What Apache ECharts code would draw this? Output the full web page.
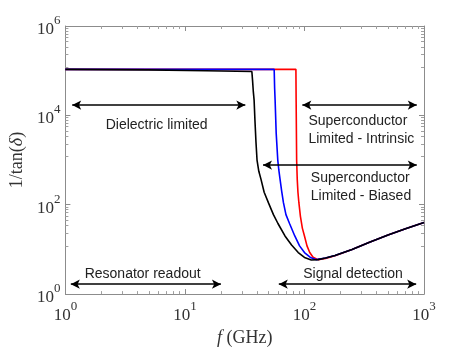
<!DOCTYPE html>
<html>
<head>
<meta charset="utf-8">
<script src="https://cdn.jsdelivr.net/npm/echarts@6/dist/echarts.min.js"></script>
<style>
  html, body { margin: 0; padding: 0; background: #fff; }
  #chart { width: 469px; height: 352px; }
</style>
</head>
<body>
<div id="chart"></div>
<script>
// frequency (GHz) and 1/tan(delta)
const freqBlack = [1, 5, 15, 36.3, 36.8, 37.3, 37.9, 38.5, 39.3, 40.1, 41.5, 43.3, 46, 50, 55, 60, 68.7, 78, 88.7, 100, 114, 130, 150, 180, 250, 350, 500, 700, 1000]
const lossBlack = [1.07e5, 1.04e5, 1e5, 0.96e5, 6e4, 3.5e4, 2.2e4, 8e3, 2.5e3, 1e3, 560, 370, 190, 110, 60, 38, 20, 12.5, 8.5, 6.6, 5.8, 5.9, 6.4, 7.3, 10, 14.5, 21, 29, 40]

const freqBlue = [1, 55.8, 56.3, 56.8, 58, 59.8, 61, 62.5, 64.5, 66.7, 70, 75, 83, 91, 100, 112, 126, 150, 180, 250, 350, 500, 700, 1000]
const lossBlue = [1.07e5, 1.07e5, 4e4, 2.2e4, 4e3, 1e3, 600, 370, 200, 111, 60, 38, 20, 12, 8.5, 6.6, 5.9, 6.4, 7.3, 10, 14.5, 21, 29, 40]

const freqRed = [1, 84.8, 85.2, 86, 87, 88.2, 89.8, 92.5, 96, 100, 105, 110.7, 118, 130, 150, 180, 250, 350, 500, 700, 1000]
const lossRed = [1.07e5, 1.07e5, 2e4, 1e3, 370, 190, 111, 55, 30, 20, 12, 8.5, 6.7, 5.9, 6.3, 7.2, 10, 14.5, 21, 29, 40]

// double arrows: [fromFreq, toFreq, level]
const arrows = [
  [1.14, 32, 1.7e4],
  [96, 870, 1.7e4],
  [45, 870, 770],
  [1.11, 20, 1.67],
  [61, 860, 1.67],
]

// region labels: [text, freq, level, align]
const notes = [
  ['Dielectric limited', 5.8, 5.9e3, 'center'],
  ['Superconductor\nLimited - Intrinsic', 108, 4.7e3, 'left'],
  ['Superconductor\nLimited - Biased', 113, 247, 'left'],
  ['Resonator readout', 4.43, 2.8, 'center'],
  ['Signal detection', 255, 2.8, 'center'],
]

const pairs = (xs, ys) => xs.map((x, i) => [x, ys[i]])

const chart = echarts.init(document.getElementById('chart'), null, { renderer: 'canvas' })

const expLabel = (v) => {
  const e = Math.round(Math.log10(v))
  return '{b|10}{s|' + e + '}'
}
const richTick = {
  b: { fontFamily: 'Liberation Serif', fontSize: 17, color: '#333', lineHeight: 24, verticalAlign: 'bottom' },
  s: { fontFamily: 'Liberation Serif', fontSize: 13, color: '#333', lineHeight: 13, verticalAlign: 'top' },
}

const frameAxis = {
  axisLine: { show: true, lineStyle: { color: '#8c8c8c', width: 1 } },
  axisTick: { show: true, inside: true, length: 5, lineStyle: { color: '#8c8c8c' } },
  minorTick: { show: true, splitNumber: 9, length: 3, lineStyle: { color: '#a0a0a0' } },
  splitLine: { show: false },
}

const option = {
  animation: false,
  grid: { left: 61, right: 45, top: 26, bottom: 57 },
  xAxis: [
    {
      type: 'log', logBase: 10, min: 1, max: 1000,
      name: '{i|f} (GHz)', nameLocation: 'middle', nameGap: 33,
      nameTextStyle: {
        fontFamily: 'Liberation Serif', fontSize: 18, color: '#333',
        rich: { i: { fontFamily: 'Liberation Serif', fontStyle: 'italic', fontSize: 18, color: '#333' } },
      },
      axisLabel: { formatter: expLabel, rich: richTick, margin: 6 },
      ...frameAxis,
    },
    {
      type: 'log', logBase: 10, min: 1, max: 1000, position: 'top',
      axisLabel: { show: false },
      ...frameAxis,
    },
  ],
  yAxis: [
    {
      type: 'log', logBase: 10, min: 1, max: 1e6, interval: 2,
      name: '1/tan({i|δ})', nameLocation: 'middle', nameGap: 36, nameRotate: 90,
      nameTextStyle: {
        fontFamily: 'Liberation Serif', fontSize: 18, color: '#333',
        rich: { i: { fontFamily: 'Liberation Serif', fontStyle: 'italic', fontSize: 18, color: '#333' } },
      },
      axisLabel: { formatter: expLabel, rich: richTick, margin: 5 },
      ...frameAxis,
    },
    {
      type: 'log', logBase: 10, min: 1, max: 1e6, interval: 2, position: 'right',
      axisLabel: { show: false },
      ...frameAxis,
    },
  ],
  series: [
    {
      type: 'line', data: pairs(freqRed, lossRed), showSymbol: false,
      lineStyle: { color: '#ff0000', width: 1.6 }, z: 3,
    },
    {
      type: 'line', data: pairs(freqBlue, lossBlue), showSymbol: false,
      lineStyle: { color: '#0000ff', width: 1.6 }, z: 4,
    },
    {
      type: 'line', data: pairs(freqBlack, lossBlack), showSymbol: false,
      lineStyle: { color: '#000000', width: 1.6 }, z: 5,
      markLine: {
        silent: true,
        symbol: ['arrow', 'arrow'],
        symbolSize: [7, 9],
        lineStyle: { color: '#000', width: 1.5, type: 'solid' },
        label: { show: false },
        data: arrows.map(a => [{ coord: [a[0], a[2]] }, { coord: [a[1], a[2]] }]),
      },
      markPoint: {
        silent: true,
        symbol: 'circle',
        symbolSize: 0,
        data: notes.map(n => ({
          name: n[0],
          coord: [n[1], n[2]],
          label: {
            show: true, position: 'inside', formatter: '{b}', align: n[3], verticalAlign: 'middle',
            fontFamily: 'Liberation Sans', fontSize: 14, lineHeight: 18, color: '#222',
          },
        })),
      },
    },
  ],
}

chart.setOption(option)
</script>
</body>
</html>
